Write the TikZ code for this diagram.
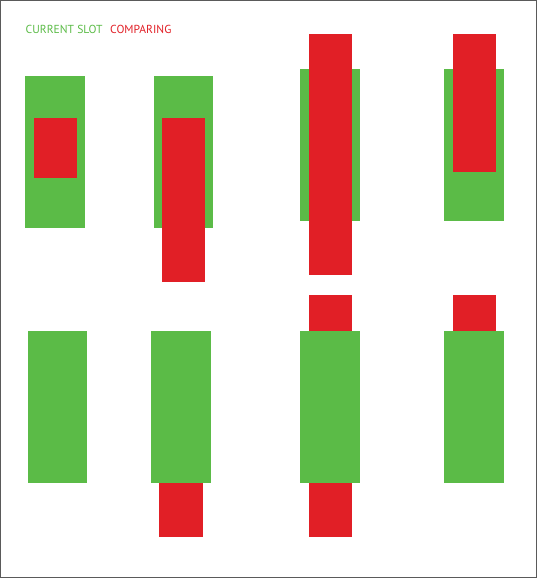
\documentclass[tikz,border=0pt]{standalone}
\usepackage{fontspec}
\setmainfont{PT Sans}
\definecolor{slotgreen}{RGB}{91,187,71}
\definecolor{cmpred}{RGB}{225,31,38}
\definecolor{framegray}{RGB}{90,90,90}

\begin{document}
\begin{tikzpicture}[
						x=1pt, y=-1pt,
						every node/.style={font=\fontsize{11.6}{14}\selectfont, inner sep=0pt},
						slot/.style={fill=slotgreen},
						cmp/.style={fill=cmpred}
						]
						
						% Frame
						\useasboundingbox (0,0) rectangle (537,578);
						\draw[framegray, line width=1.4pt] (0.7,0.7) rectangle (536.3,577.3);
						
						% Legend
						\node[anchor=base west, text=slotgreen] (lgslot) at (25.5,34) {CURRENT SLOT};
						\node[anchor=base west, text=cmpred] (lgcmp) at (110,34) {COMPARING};
						
						% Top row
						\fill[slot] (25.3,76) rectangle (85.3,227.7);
						\fill[cmp] (34,118) rectangle (77,177.7);
						
						\fill[slot] (154,76) rectangle (213.3,227.7);
						\fill[cmp] (162.3,118) rectangle (205.3,281.7);
						
						\fill[slot] (300.3,69.3) rectangle (360,221);
						\fill[cmp] (309,34) rectangle (352,275.3);
						
						\fill[slot] (444,69.3) rectangle (503.7,221);
						\fill[cmp] (452.7,34) rectangle (495.7,172);
						
						% Bottom row
						\fill[slot] (28,330.7) rectangle (87.3,482.7);
						
						\fill[cmp] (159.3,482.7) rectangle (202.7,536.7);
						\fill[slot] (151.3,330.7) rectangle (210.7,482.7);
						
						\fill[cmp] (309,295) rectangle (352.3,536.7);
						\fill[slot] (300.3,330.7) rectangle (360.3,482.7);
						
						\fill[cmp] (452.7,295) rectangle (495.7,330.7);
						\fill[slot] (444,330.7) rectangle (504,482.7);
						
					\end{tikzpicture}
\end{document}
